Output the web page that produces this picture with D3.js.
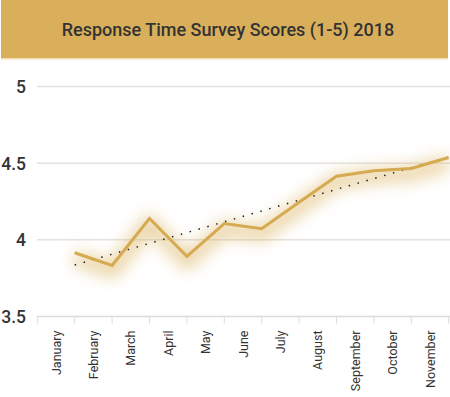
<!DOCTYPE html>
<html>
<head>
<meta charset="utf-8">
<script src="https://cdn.jsdelivr.net/npm/d3@7"></script>
<style>
  html, body { margin: 0; padding: 0; background: #fff; }
  svg { display: block; }
</style>
</head>
<body>
<svg id="chart" width="450" height="397"></svg>
<script>
const title = "Response Time Survey Scores (1-5) 2018";
const months = ["January","February","March","April","May","June","July","August","September","October","November"];
const scores = [3.916, 3.833, 4.139, 3.892, 4.106, 4.073, 4.245, 4.415, 4.45, 4.465, 4.537];
const yTicks = [3.5, 4, 4.5, 5];
const yTickLabels = ["3.5", "4", "4.5", "5"];

const svg = d3.select("#chart");
const gold = "#d9af5b";
const lineGold = "#d6aa50";
const font = "Roboto, 'DejaVu Sans', sans-serif";

// title band
svg.append("rect").attr("x", 1).attr("y", 0).attr("width", 447).attr("height", 58).attr("fill", gold);
svg.append("rect").attr("x", 1).attr("y", 58).attr("width", 447).attr("height", 1.5).attr("fill", "#f1dcae");
svg.append("text")
  .attr("x", 228).attr("y", 36)
  .attr("text-anchor", "middle")
  .attr("font-family", font).attr("font-weight", 500)
  .attr("font-size", 18).attr("fill", "#333")
  .text(title);

const x = d3.scaleBand().domain(months).range([37.3, 448.7]).padding(0);
const y = d3.scaleLinear().domain([3.5, 5]).range([316.5, 86.5]);

// gridlines
svg.append("g").selectAll("line").data(yTicks.slice(1)).join("line")
  .attr("x1", 37).attr("x2", 450)
  .attr("y1", d => y(d)).attr("y2", d => y(d))
  .attr("stroke", "#e2e2e2").attr("stroke-width", 1.5);

// y labels
svg.append("g").selectAll("text").data(yTicks).join("text")
  .attr("x", 26).attr("y", d => y(d) + 6.5)
  .attr("text-anchor", "end")
  .attr("font-family", font).attr("font-weight", 500).attr("font-size", 17.5).attr("fill", "#333")
  .text((d, i) => yTickLabels[i]);

// x axis
const xAxis = d3.axisBottom(x).tickSize(0).tickPadding(0);
const gx = svg.append("g").attr("transform", `translate(0,${y(3.5)})`).call(xAxis);
gx.select(".domain").remove();
svg.append("line").attr("x1", 37).attr("x2", 450).attr("y1", y(3.5)).attr("y2", y(3.5))
  .attr("stroke", "#dcdcdc").attr("stroke-width", 1.5);
const boundaries = months.map(m => x(m)).concat([x(months[months.length-1]) + x.bandwidth()]);
svg.append("g").selectAll("line").data(boundaries).join("line")
  .attr("x1", d => d).attr("x2", d => d)
  .attr("y1", y(3.5)).attr("y2", y(3.5) + 7)
  .attr("stroke", "#dcdcdc").attr("stroke-width", 1);
gx.selectAll(".tick text")
  .attr("font-family", font).attr("font-size", 12.5).attr("fill", "#333")
  .attr("text-anchor", "end")
  .attr("transform", "rotate(-90)")
  .attr("x", -14).attr("y", 4.5).attr("dy", 0);

// points at right edge of each band
const px = (d, i) => x(months[i]) + x.bandwidth();
const pts = scores.map((v, i) => [px(v, i), y(v)]);

// glow filter
const defs = svg.append("defs");
const f = defs.append("filter").attr("id", "glow").attr("x", "-20%").attr("y", "-60%").attr("width", "140%").attr("height", "220%");
f.append("feGaussianBlur").attr("stdDeviation", 8);

const lineGen = d3.line();
svg.append("path").datum(pts.map(p => [p[0], p[1] + 5]))
  .attr("d", lineGen).attr("fill", "none")
  .attr("stroke", "#dcb25e").attr("stroke-opacity", 0.6).attr("stroke-width", 14)
  .attr("filter", "url(#glow)");

// linear trend (least squares over the data)
const n = scores.length;
const mx = d3.mean(d3.range(n)), my = d3.mean(scores);
const slope = d3.sum(d3.range(n), i => (i - mx) * (scores[i] - my)) / d3.sum(d3.range(n), i => (i - mx) ** 2);
const icpt = my - slope * mx;
const trend = [[px(0, 0), y(icpt)], [px(0, n - 1), y(icpt + slope * (n - 1))]];
svg.append("path").datum(trend).attr("d", lineGen)
  .attr("fill", "none").attr("stroke", "#222").attr("stroke-width", 1.5)
  .attr("stroke-dasharray", "1.5 7.7");

svg.append("path").datum(pts).attr("d", lineGen)
  .attr("fill", "none").attr("stroke", lineGold).attr("stroke-width", 3)
  .attr("stroke-linejoin", "miter");
</script>
</body>
</html>
